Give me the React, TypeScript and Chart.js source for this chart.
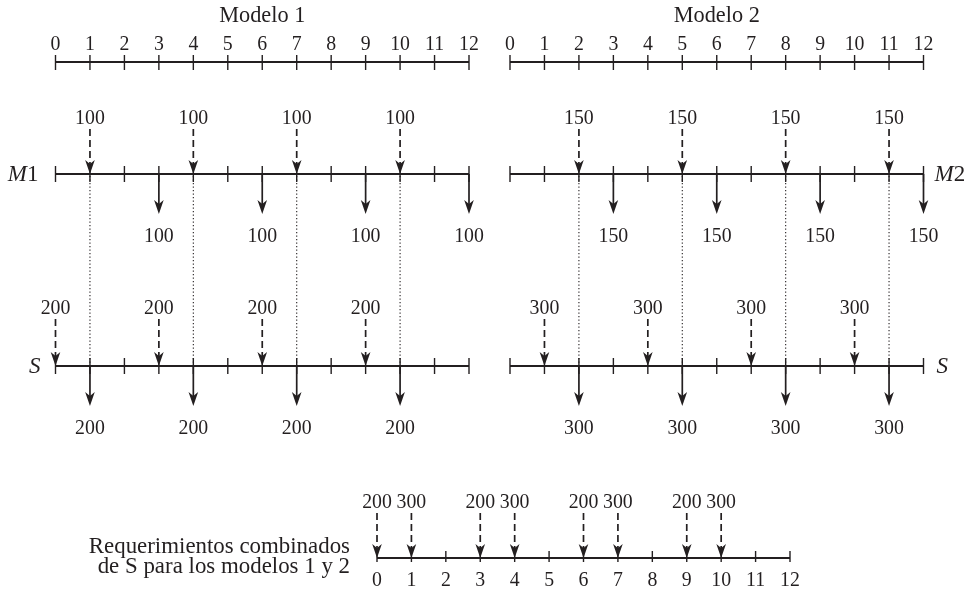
import React, { useEffect, useRef } from "react";
import { Chart, registerables } from "chart.js";

Chart.register(...registerables);

// ---------- data ----------
const tickLabels = ["0", "1", "2", "3", "4", "5", "6", "7", "8", "9", "10", "11", "12"];
const periods = [0, 1, 2, 3, 4, 5, 6, 7, 8, 9, 10, 11, 12];

const m1TopTimes = [1, 4, 7, 10];
const m1TopQty = [100, 100, 100, 100];
const m1BottomTimes = [3, 6, 9, 12];
const m1BottomQty = [100, 100, 100, 100];
const s1TopTimes = [0, 3, 6, 9];
const s1TopQty = [200, 200, 200, 200];
const s1BottomTimes = [1, 4, 7, 10];
const s1BottomQty = [200, 200, 200, 200];

const m2TopTimes = [2, 5, 8, 11];
const m2TopQty = [150, 150, 150, 150];
const m2BottomTimes = [3, 6, 9, 12];
const m2BottomQty = [150, 150, 150, 150];
const s2TopTimes = [1, 4, 7, 10];
const s2TopQty = [300, 300, 300, 300];
const s2BottomTimes = [2, 5, 8, 11];
const s2BottomQty = [300, 300, 300, 300];

const combinedTimes = [0, 1, 3, 4, 6, 7, 9, 10];
const combinedQty = [200, 300, 200, 300, 200, 300, 200, 300];

const title1 = "Modelo 1";
const title2 = "Modelo 2";
const combinedText = ["Requerimientos combinados", "de S para los modelos 1 y 2"];

// ---------- layout (row positions on the y scale) ----------
const ROW_AXIS = 62;
const ROW_M = 174;
const ROW_S = 366;
const ROW_C = 558;

const INK = "#231f20";
const SERIF = '"Liberation Serif", "DejaVu Serif", serif';

function arrowHead(ctx: CanvasRenderingContext2D, x: number, tipY: number) {
  ctx.beginPath();
  ctx.moveTo(x, tipY);
  ctx.lineTo(x - 4.8, tipY - 14);
  ctx.lineTo(x, tipY - 10);
  ctx.lineTo(x + 4.8, tipY - 14);
  ctx.closePath();
  ctx.fill();
}

function drawText(
  ctx: CanvasRenderingContext2D,
  text: string,
  x: number,
  y: number,
  font: string,
  sx: number,
  align: CanvasTextAlign
) {
  ctx.save();
  ctx.font = font;
  ctx.textAlign = align;
  ctx.translate(x, y);
  ctx.scale(sx, 1);
  ctx.fillText(text, 0, 0);
  ctx.restore();
}

const diagramPlugin = {
  id: "mrpDiagram",
  afterDraw(chart: any) {
    const ctx: CanvasRenderingContext2D = chart.ctx;
    const ys = chart.scales.y;
    const Y = (v: number) => ys.getPixelForValue(v);
    ctx.save();
    ctx.fillStyle = INK;
    ctx.strokeStyle = INK;
    ctx.textAlign = "center";
    ctx.textBaseline = "middle";

    const numFont = `22px ${SERIF}`;
    const NUM_SX = 0.9;
    const num = (t: string, x: number, y: number) => drawText(ctx, t, x, y, numFont, NUM_SX, "center");

    const timeline = (sx: any, row: number, up: number, down: number) => {
      const x0 = sx.getPixelForValue(periods[0]);
      const x1 = sx.getPixelForValue(periods[periods.length - 1]);
      const y = Y(row);
      ctx.setLineDash([]);
      ctx.lineWidth = 2.1;
      ctx.beginPath();
      ctx.moveTo(x0, y);
      ctx.lineTo(x1, y);
      ctx.stroke();
      ctx.lineWidth = 1.4;
      periods.forEach((p) => {
        const x = sx.getPixelForValue(p);
        ctx.beginPath();
        ctx.moveTo(x, y - up);
        ctx.lineTo(x, y + down);
        ctx.stroke();
      });
    };

    const tickText = (sx: any, y: number) => {
      periods.forEach((p, i) => num(tickLabels[i], sx.getPixelForValue(p), y));
    };

    const topArrows = (sx: any, row: number, times: number[], qty: number[], labelY: number) => {
      const y = Y(row);
      times.forEach((t, i) => {
        const x = sx.getPixelForValue(t);
        num(String(qty[i]), x, labelY);
        ctx.lineWidth = 1.7;
        ctx.setLineDash([7, 4]);
        ctx.beginPath();
        ctx.moveTo(x, labelY + 11);
        ctx.lineTo(x, y - 10);
        ctx.stroke();
        ctx.setLineDash([]);
        arrowHead(ctx, x, y);
      });
    };

    const bottomArrows = (sx: any, row: number, times: number[], qty: number[]) => {
      const y = Y(row);
      times.forEach((t, i) => {
        const x = sx.getPixelForValue(t);
        ctx.lineWidth = 1.7;
        ctx.setLineDash([]);
        ctx.beginPath();
        ctx.moveTo(x, y);
        ctx.lineTo(x, y + 30);
        ctx.stroke();
        arrowHead(ctx, x, y + 40);
        num(String(qty[i]), x, y + 62);
      });
    };

    const dotted = (sx: any, times: number[]) => {
      ctx.lineWidth = 1.1;
      ctx.setLineDash([1.2, 2.3]);
      times.forEach((t) => {
        const x = sx.getPixelForValue(t);
        ctx.beginPath();
        ctx.moveTo(x, Y(ROW_M) + 2);
        ctx.lineTo(x, Y(ROW_S) - 1);
        ctx.stroke();
      });
      ctx.setLineDash([]);
    };

    const x1 = chart.scales.x1;
    const x2 = chart.scales.x2;
    const x3 = chart.scales.x3;

    // titles and top axes
    const titleFont = `23px ${SERIF}`;
    drawText(ctx, title1, (x1.getPixelForValue(0) + x1.getPixelForValue(12)) / 2, 16, titleFont, 0.97, "center");
    drawText(ctx, title2, (x2.getPixelForValue(0) + x2.getPixelForValue(12)) / 2, 16, titleFont, 0.97, "center");
    tickText(x1, 44);
    tickText(x2, 44);
    timeline(x1, ROW_AXIS, 7, 8);
    timeline(x2, ROW_AXIS, 7, 8);

    // dotted guides
    dotted(x1, m1TopTimes);
    dotted(x2, m2TopTimes);

    // M rows
    timeline(x1, ROW_M, 8, 8);
    timeline(x2, ROW_M, 8, 8);
    topArrows(x1, ROW_M, m1TopTimes, m1TopQty, Y(ROW_M) - 56);
    topArrows(x2, ROW_M, m2TopTimes, m2TopQty, Y(ROW_M) - 56);
    bottomArrows(x1, ROW_M, m1BottomTimes, m1BottomQty);
    bottomArrows(x2, ROW_M, m2BottomTimes, m2BottomQty);

    // S rows
    timeline(x1, ROW_S, 8, 8);
    timeline(x2, ROW_S, 8, 8);
    topArrows(x1, ROW_S, s1TopTimes, s1TopQty, Y(ROW_S) - 58);
    topArrows(x2, ROW_S, s2TopTimes, s2TopQty, Y(ROW_S) - 58);
    bottomArrows(x1, ROW_S, s1BottomTimes, s1BottomQty);
    bottomArrows(x2, ROW_S, s2BottomTimes, s2BottomQty);

    // row labels
    const italic = `italic 23px ${SERIF}`;
    const upright = `23px ${SERIF}`;
    const rowLabel = (letter: string, digit: string, x: number, y: number, align: "left" | "right") => {
      ctx.textAlign = "left";
      ctx.font = italic;
      const wl = ctx.measureText(letter).width;
      ctx.font = upright;
      const wd = digit ? ctx.measureText(digit).width : 0;
      const start = align === "left" ? x : x - wl - wd;
      ctx.font = italic;
      ctx.fillText(letter, start, y);
      ctx.font = upright;
      if (digit) ctx.fillText(digit, start + wl, y);
      ctx.textAlign = "center";
    };
    rowLabel("M", "1", x1.getPixelForValue(0) - 17, Y(ROW_M) + 1, "right");
    rowLabel("M", "2", x2.getPixelForValue(12) + 11, Y(ROW_M) + 1, "left");
    rowLabel("S", "", x1.getPixelForValue(0) - 15, Y(ROW_S) + 1, "right");
    rowLabel("S", "", x2.getPixelForValue(12) + 13, Y(ROW_S) + 1, "left");

    // combined
    timeline(x3, ROW_C, 7, 4);
    topArrows(x3, ROW_C, combinedTimes, combinedQty, Y(ROW_C) - 56);
    tickText(x3, Y(ROW_C) + 22);
    ctx.textBaseline = "alphabetic";
    const tx = x3.getPixelForValue(0) - 27;
    drawText(ctx, combinedText[0], tx, 553, `23px ${SERIF}`, 0.995, "right");
    drawText(ctx, combinedText[1], tx, 573, `23px ${SERIF}`, 0.995, "right");

    ctx.restore();
  },
};

// scale ranges chosen so that period 0..12 of each timeline sits where it should
function rangeFor(left: number, right: number, width: number) {
  const u = (right - left) / 12;
  return { min: -left / u, max: (width - left) / u };
}

export default function App() {
  const ref = useRef<HTMLCanvasElement | null>(null);
  useEffect(() => {
    if (!ref.current) return;
    const W = 970;
    const r1 = rangeFor(55.5, 469, W);
    const r2 = rangeFor(510, 923.5, W);
    const r3 = rangeFor(377, 790, W);
    const hidden = { display: false, grid: { display: false } };
    const chart = new Chart(ref.current, {
      type: "scatter",
      data: { datasets: [] },
      options: {
        animation: false,
        responsive: false,
        maintainAspectRatio: false,
        layout: { padding: 0 },
        plugins: { legend: { display: false }, tooltip: { enabled: false } },
        scales: {
          x1: { type: "linear", axis: "x", position: "bottom", min: r1.min, max: r1.max, ...hidden },
          x2: { type: "linear", axis: "x", position: "bottom", min: r2.min, max: r2.max, ...hidden },
          x3: { type: "linear", axis: "x", position: "bottom", min: r3.min, max: r3.max, ...hidden },
          y: { type: "linear", min: 0, max: 590, reverse: true, ...hidden },
        },
      } as any,
      plugins: [diagramPlugin],
    });
    return () => chart.destroy();
  }, []);
  return (
    <div style={{ position: "fixed", left: 0, top: 0, width: 970, height: 590, background: "#fff" }}>
      <canvas ref={ref} width={970} height={590} style={{ width: 970, height: 590, display: "block" }} />
    </div>
  );
}
